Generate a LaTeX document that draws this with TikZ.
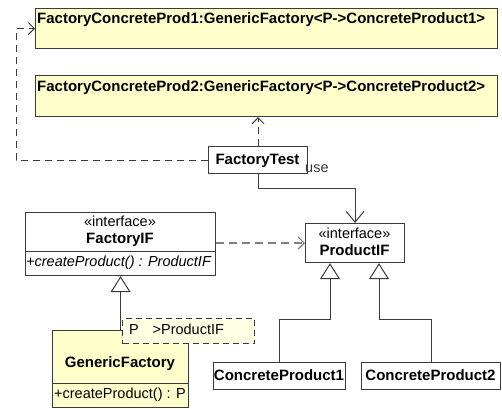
\documentclass[tikz,border=0pt]{standalone}
\usepackage{fontspec}
\setmainfont{Liberation Sans}
\usepackage{tikz}
\usetikzlibrary{positioning, arrows.meta, calc}
\definecolor{umlyellow}{HTML}{FFFFCC}
\definecolor{tmplyellow}{HTML}{FFFFE3}
\definecolor{umlline}{HTML}{3A3A3A}
\tikzset{every picture/.append style={line join=miter}}

\begin{document}
\begin{tikzpicture}[x=1pt, y=-1pt,
    box/.style={draw=umlline, line width=1.1pt, anchor=north west, inner sep=0pt},
    ybox/.style={box, fill=umlyellow},
    tmplbox/.style={box, fill=tmplyellow, dashed, dash pattern=on 6pt off 4pt},
    classname/.style={font=\bfseries\fontsize{15}{17}\selectfont, inner sep=0pt},
    plaintext/.style={font=\fontsize{14.5}{17}\selectfont, inner sep=0pt},
    stereo/.style={font=\fontsize{14.5}{17}\selectfont, inner sep=0pt},
    dep/.style={draw=umlline, line width=1pt, dash pattern=on 7pt off 5pt, -{Straight Barb[length=6pt,width=12pt]}},
    grdep/.style={draw=gray, line width=1.2pt, dash pattern=on 8pt off 5pt, -{Straight Barb[length=6pt,width=12pt]}},
    assoc/.style={draw=umlline, line width=1pt, -{Straight Barb[length=11pt,width=18pt]}},
    realize/.style={draw=umlline, line width=1pt, -{Triangle[open, fill=white, length=16pt, width=20pt]}}]
    \useasboundingbox (0,0) rectangle (502,408);

    % Bound factories
    \node[ybox, minimum width=462pt, minimum height=40pt] (prodone) at (35,8) {};
    \node[classname, anchor=base west] (prodonename) at (37,23.5)
        {FactoryConcreteProd1:GenericFactory<P->ConcreteProduct1>};
    \node[ybox, minimum width=462pt, minimum height=41pt] (prodtwo) at (35,75) {};
    \node[classname, anchor=base west] (prodtwoname) at (37,91)
        {FactoryConcreteProd2:GenericFactory<P->ConcreteProduct2>};

    % Test client
    \node[box, fill=white, minimum width=99pt, minimum height=27pt] (test) at (208,146) {};
    \node[classname, anchor=base] (testname) at (257.5,164.5) {FactoryTest};
    \node[stereo, anchor=base west, text=umlline] (uselabel) at (305,172) {use};

    % Interfaces
    \node[box, fill=white, minimum width=190pt, minimum height=63pt] (factoryif) at (25,212) {};
    \node[stereo, anchor=base] (fifstereo) at (120,226) {«interface»};
    \node[classname, anchor=base] (fifname) at (120,243) {FactoryIF};
    \draw[umlline, line width=1pt] (25,251) -- (215,251);
    \node[plaintext, font=\itshape\fontsize{14.5}{17}\selectfont, anchor=base west] (fifop)
        at (26,266) {+createProduct() : ProductIF};

    \node[box, fill=white, minimum width=99pt, minimum height=39pt] (productif) at (305,223) {};
    \node[stereo, anchor=base] (pifstereo) at (354.5,238) {«interface»};
    \node[classname, anchor=base] (pifname) at (354.5,255) {ProductIF};

    % Generic factory
    \node[ybox, minimum width=136pt, minimum height=77pt] (generic) at (52,330) {};
    \node[classname, anchor=base] (genname) at (120,367) {GenericFactory};
    \draw[umlline, line width=1pt] (52,383) -- (188,383);
    \node[plaintext, anchor=base west] (genop) at (54,398) {+createProduct() : P};
    \node[tmplbox, minimum width=132pt, minimum height=25pt] (tmpl) at (122,318) {};
    \node[plaintext, anchor=base west] (tmplparam) at (129,334) {P\hspace{0.95em}>ProductIF};

    % Products
    \node[box, fill=white, minimum width=132pt, minimum height=27pt] (cpone) at (213,362) {};
    \node[classname, anchor=base] (cponename) at (279,380) {ConcreteProduct1};
    \node[box, fill=white, minimum width=139pt, minimum height=27pt] (cptwo) at (361,362) {};
    \node[classname, anchor=base] (cptwoname) at (430.5,380) {ConcreteProduct2};

    % Connectors
    \draw[dep] (test.west) -- ++(-192,0) |- (prodone.west);
    \draw[dep] (test.north) -- (test.north |- prodtwo.south);
    \draw[assoc] (test.south) |- ($(productif.north)+(0,-35)$) -- (productif.north);
    \draw[grdep] (factoryif.east |- 0,243) -- (productif.west |- 0,243);
    \draw[realize] (generic.north) -- (factoryif.south);
    \draw[realize] (cpone.north) |- (330,319) -- (productif.south -| 330,0);
    \draw[realize] (cptwo.north) |- (379,319) -- (productif.south -| 379,0);
\end{tikzpicture}
\end{document}
